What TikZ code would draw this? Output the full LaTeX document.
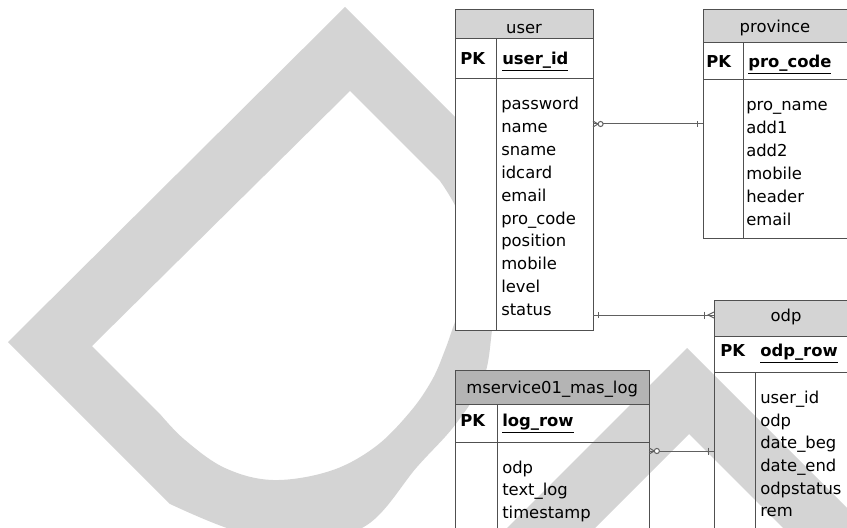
\documentclass[tikz,border=0pt]{standalone}
\usepackage{fontspec}
\setmainfont{DejaVu Sans}
\usetikzlibrary{calc}
\definecolor{wm}{HTML}{D4D4D4}
\definecolor{hdrdark}{HTML}{B4B4B4}
\definecolor{bord}{HTML}{505050}
\definecolor{conn}{HTML}{606060}
\begin{document}
\begin{tikzpicture}[x=0.75pt,y=-0.75pt,
  tbl/.style={draw=bord, line width=0.75pt},
  hdr/.style={fill=black, fill opacity=0.17},
  box/.style={inner sep=0pt, outer sep=0pt, anchor=north west},
  txt/.style={anchor=base west, inner sep=0pt, font=\fontsize{12.3pt}{14pt}\selectfont},
  ttl/.style={anchor=base, inner sep=0pt, font=\fontsize{12.3pt}{14pt}\selectfont},
  pk/.style={anchor=base west, inner sep=0pt, font=\fontsize{12.3pt}{14pt}\selectfont\bfseries},
  rel/.style={draw=conn, line width=0.75pt}]
\useasboundingbox (0,0) rectangle (847,528);
% ---------- watermark ----------
\begin{scope}
\clip (0,0) rectangle (847,528);
\fill[wm, even odd rule]
  (8,342) -- (345,7) -- (455,117) -- plot[smooth, tension=0.6] coordinates {(455,117) (480,150) (494,205) (497,265) (492,330) (483,380) (455,425) (417,467) (367,525) (300,543) (233,530) (170,504)} -- cycle
  (350,91) -- (440,181) -- plot[smooth, tension=0.6] coordinates {(440,181) (458,212) (468,255) (466,295) (455,322) (445,350) (432,380) (410,412) (375,447) (330,471) (273,480) (225,468) (185,440) (160,414)} -- (92,346) -- cycle;
\fill[wm] (470,565) -- (687,348) -- (904,565) -- (820,565) -- (689,434) -- (558,565) -- cycle;
\end{scope}
% ---------- table user ----------
\node[box, fill=white, minimum width=103.5pt, minimum height=240.4pt] (user) at (455,9.5) {};
\fill[hdr] (455,9.5) rectangle (593,39);
\draw[tbl] (user.north west) rectangle (user.south east);
\draw[tbl] (455,39) -- (593,39) (455,79) -- (593,79) (496,39) -- (496,330);
\node[ttl] (usert) at (524,33.3) {user};
\node[pk] (userpk) at (460,64.3) {PK};
\node[pk] (userid) at (502,64.3) {\underline{user\_id}};
\foreach \t [count=\i] in {password,name,sname,idcard,email,pro\_code,position,mobile,level,status}
  \node[txt] (u\i) at (501,{110+22.8*(\i-1)}) {\t};
% ---------- table province ----------
\node[box, fill=white, minimum width=110.25pt, minimum height=171pt] (prov) at (703,10) {};
\fill[hdr] (703,10) rectangle (850,42.5);
\draw[tbl] (prov.north west) rectangle (prov.south east);
\draw[tbl] (703,42.5) -- (850,42.5) (703,80) -- (850,80) (743,42.5) -- (743,238);
\node[ttl] (provt) at (775,32.3) {province};
\node[pk] (provpk) at (706,68) {PK};
\node[pk] (provid) at (748,68) {\underline{pro\_code}};
\foreach \t [count=\i] in {pro\_name,add1,add2,mobile,header,email}
  \node[txt] (p\i) at (746,{111+22.8*(\i-1)}) {\t};
% ---------- table odp ----------
\node[box, minimum width=108pt, minimum height=180pt] (odp) at (714,300.7) {};
\fill[hdr] (714,300.7) rectangle (858,336);
\draw[tbl] (odp.north west) rectangle (odp.south east);
\draw[tbl] (714,336) -- (858,336) (714,372) -- (858,372) (755,372) -- (755,545);
\node[ttl] (odpt) at (786,321.7) {odp};
\node[pk] (odppk) at (720,356.7) {PK};
\node[pk] (odpid) at (760,356.7) {\underline{odp\_row}};
\foreach \t [count=\i] in {user\_id,odp,date\_beg,date\_end,odpstatus,rem}
  \node[txt] (o\i) at (760,{403.3+22.7*(\i-1)}) {\t};
% ---------- table mservice01_mas_log ----------
\node[box, minimum width=145.7pt, minimum height=130pt] (mlog) at (455,370) {};
\fill[hdrdark] (455,370) rectangle (649.3,404);
\draw[tbl] (mlog.north west) rectangle (mlog.south east);
\draw[tbl] (455,404) -- (649.3,404) (455,442) -- (649.3,442) (497,404) -- (497,545);
\node[ttl] (mlogt) at (552.2,393.3) {mservice01\_mas\_log};
\node[pk] (mlogpk) at (460,426.7) {PK};
\node[pk] (mlogid) at (502,426.7) {\underline{log\_row}};
\foreach \t [count=\i] in {odp,text\_log,timestamp}
  \node[txt] (m\i) at (502,{473.3+22.5*(\i-1)}) {\t};
% ---------- relationships ----------
\coordinate (r1) at (0,124);
\coordinate (r2) at (0,315);
\coordinate (r3) at (0,451);
% user >o----| province
\draw[rel] (user.east |- r1) coordinate (a1) -- (prov.west |- r1) coordinate (b1);
\draw[rel] ($(a1)+(0,-3)$) -- ($(a1)+(5,0)$) -- ($(a1)+(0,3)$);
\draw[rel, fill=white] ($(a1)+(7.6,0)$) circle[radius=1.9pt];
\draw[rel] ($(b1)+(-6,-3)$) -- ($(b1)+(-6,3)$);
% user |----|< odp
\draw[rel] (user.east |- r2) coordinate (a2) -- (odp.west |- r2) coordinate (b2);
\draw[rel] ($(a2)+(5,-3)$) -- ($(a2)+(5,3)$);
\draw[rel] ($(b2)+(-10,-3.5)$) -- ($(b2)+(-10,3.5)$);
\draw[rel] ($(b2)+(0,-3)$) -- ($(b2)+(-6,0)$) -- ($(b2)+(0,3)$);
% mservice01 >o----| odp
\draw[rel] (mlog.east |- r3) coordinate (a3) -- (odp.west |- r3) coordinate (b3);
\draw[rel] ($(a3)+(0,-3)$) -- ($(a3)+(5,0)$) -- ($(a3)+(0,3)$);
\draw[rel, fill=white] ($(a3)+(7.6,0)$) circle[radius=1.9pt];
\draw[rel] ($(b3)+(-6,-3.5)$) -- ($(b3)+(-6,3.5)$);
\end{tikzpicture}
\end{document}
